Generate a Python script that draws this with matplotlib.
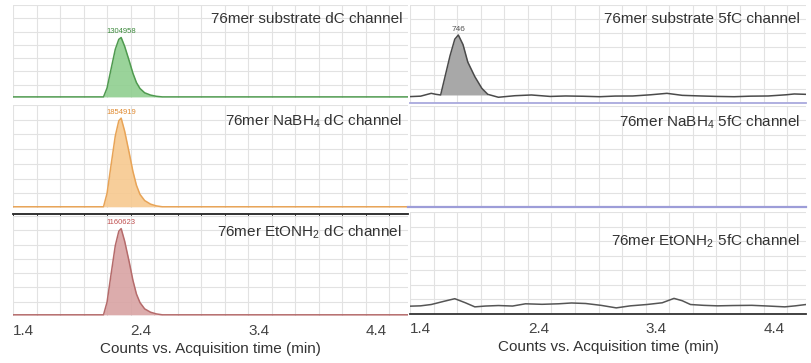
import numpy as np
import matplotlib
matplotlib.use("Agg")
from matplotlib import pyplot as plt
from matplotlib.ticker import FixedLocator, LinearLocator

plt.rcParams['font.family'] = ['Liberation Sans', 'DejaVu Sans']
plt.rcParams['mathtext.fontset'] = 'custom'
plt.rcParams['mathtext.rm'] = 'Liberation Sans'

# dC channel traces (counts vs. time in min)
t_dc = [1.31, 2.06, 2.08, 2.11, 2.14, 2.18, 2.21, 2.23, 2.26, 2.30, 2.33, 2.36, 2.39, 2.43, 2.48, 2.53, 2.58, 4.67]
substrate_dc = [0, 0, 0, 195000, 560000, 1045000, 1265000, 1304958, 1110000, 780000, 520000, 315000, 185000, 90000, 40000, 13000, 0, 0]
nabh4_dc = [0, 0, 0, 280000, 800000, 1480000, 1800000, 1854919, 1580000, 1110000, 740000, 450000, 260000, 130000, 55000, 18000, 0, 0]
etonh2_dc = [0, 0, 0, 170000, 500000, 930000, 1125000, 1160623, 990000, 700000, 465000, 280000, 165000, 80000, 35000, 12000, 0, 0]
dc_apex = [1304958, 1854919, 1160623]
dc_apex_time = 2.23

# 5fC channel traces
t_sub_5fc = [1.29, 1.40, 1.49, 1.53, 1.57, 1.60, 1.65, 1.69, 1.72, 1.76, 1.80, 1.86, 1.92, 1.97, 2.06,
             2.20, 2.34, 2.50, 2.63, 2.78, 2.92, 3.05, 3.20, 3.35, 3.49, 3.62, 3.78, 3.92, 4.06, 4.20,
             4.35, 4.50, 4.57, 4.67]
substrate_5fc = [69, 75, 106, 95, 88, 250, 520, 700, 746, 640, 450, 289, 160, 95, 63,
                 80, 88, 72, 77, 74, 69, 76, 77, 90, 106, 84, 77, 72, 69, 75,
                 77, 90, 99, 95]
peak_5fc = (1.57, 1.97)
peak_5fc_base = 88
t_nabh4_5fc = [1.29, 4.67]
nabh4_5fc = [0, 0]
t_eto_5fc = [1.29, 1.40, 1.49, 1.60, 1.69, 1.78, 1.86, 1.95, 2.06, 2.18, 2.29, 2.43, 2.57, 2.68, 2.80,
             2.93, 3.06, 3.18, 3.32, 3.45, 3.55, 3.62, 3.69, 3.80, 3.92, 4.05, 4.21, 4.35, 4.49, 4.58, 4.67]
etonh2_5fc = [76, 80, 93, 125, 150, 110, 70, 78, 83, 78, 100, 95, 100, 108, 103,
              85, 60, 80, 93, 110, 153, 130, 93, 85, 80, 83, 85, 78, 70, 80, 93]

tick_vals = [1.4, 2.4, 3.4, 4.4]
W, H = 811, 363
XMIN, XMAX = 1.31, 4.67
txt = '#333333'

fig = plt.figure(figsize=(W / 100, H / 100), dpi=100)


def make_ax(x0, x1, top, bottom, ylim):
    ax = fig.add_axes([x0 / W, 1 - bottom / H, (x1 - x0) / W, (bottom - top) / H])
    ax.set_xlim(XMIN, XMAX)
    ax.set_ylim(*ylim)
    ax.set_axisbelow(True)
    ax.xaxis.set_major_locator(FixedLocator(tick_vals))
    ax.xaxis.set_minor_locator(FixedLocator(np.arange(XMIN, XMAX, 0.2)))
    ax.yaxis.set_major_locator(LinearLocator(8))
    ax.grid(True, which='minor', axis='x', color='#e2e2e2', lw=0.8)
    ax.grid(True, which='major', axis='y', color='#e2e2e2', lw=0.8)
    ax.tick_params(which='both', length=0, labelleft=False, labelbottom=False)
    for s in ax.spines.values():
        s.set_visible(False)
    return ax


def title(ax, s, y=0.93):
    ax.text(0.985, y, s, transform=ax.transAxes, ha='right', va='top', fontsize=11, color=txt)


# left column: dC channel
dc_rows = [(5, 98, substrate_dc, '#8fcf8f', '#4f9a4f', '#3d8a3d', '76mer substrate dC channel', 2.02e6),
           (105, 208, nabh4_dc, '#f7c98f', '#e8a457', '#e08a30', '76mer NaBH$_4$ dC channel', 2.13e6),
           (216, 316, etonh2_dc, '#d9a3a3', '#b56b6b', '#c05050', '76mer EtONH$_2$ dC channel', 1.33e6)]
left_axes = []
for (top, bot, y, fc, ec, lc, name, ymax), apex in zip(dc_rows, dc_apex):
    ax = make_ax(13, 408, top, bot, (-0.012 * ymax, ymax))
    ax.fill_between(t_dc, y, color=fc, alpha=0.9, lw=0, zorder=2)
    ax.plot(t_dc, y, color=ec, lw=1.1, zorder=3)
    ax.text(dc_apex_time, apex + 0.025 * ymax, str(apex), ha='center', va='bottom', fontsize=5.5, color=lc)
    title(ax, name)
    left_axes.append(ax)

# black axis line under the NaBH4 panel
ax = left_axes[1]
ax.spines['bottom'].set_visible(True)
ax.spines['bottom'].set_position(('outward', 4))
ax.spines['bottom'].set_color('#222222')
ax.spines['bottom'].set_linewidth(1.3)
ax.tick_params(which='minor', axis='x', length=3, color='#222222', direction='out')

# right column: 5fC channel
ax = make_ax(410, 806, 5, 103, (0, 1075))
t = np.array(t_sub_5fc)
y = np.array(substrate_5fc)
m = (t >= peak_5fc[0]) & (t <= peak_5fc[1])
ax.fill_between(t[m], y[m], peak_5fc_base, color='#a8a8a8', lw=0, zorder=2)
ax.plot(t, y, color='#4a4a4a', lw=1.1, zorder=3)
ax.text(1.72, 746 + 20, '746', ha='center', va='bottom', fontsize=6, color='#555555')
ax.spines['bottom'].set_visible(True)
ax.spines['bottom'].set_color('#a9a9dd')
ax.spines['bottom'].set_linewidth(1.3)
title(ax, '76mer substrate 5fC channel')

ax = make_ax(410, 806, 106, 207, (0, 1000))
ax.plot(t_nabh4_5fc, nabh4_5fc, color='#9d9dd8', lw=1.6, clip_on=False)
title(ax, '76mer NaBH$_4$ 5fC channel')

ax = make_ax(410, 806, 212, 314, (0, 1000))
ax.plot(t_eto_5fc, etonh2_5fc, color='#555555', lw=1.1)
ax.spines['bottom'].set_visible(True)
ax.spines['bottom'].set_color('#333333')
ax.spines['bottom'].set_linewidth(1.3)
title(ax, '76mer EtONH$_2$ 5fC channel', y=0.8)
right_bottom = ax

for ax in (left_axes[2], right_bottom):
    ax.tick_params(axis='x', which='major', labelbottom=True, labelsize=11,
                   labelcolor='#444444', pad=6)
    ax.set_xlabel('Counts vs. Acquisition time (min)', fontsize=11, color=txt, labelpad=3)

fig.savefig('out.png', dpi=100)
